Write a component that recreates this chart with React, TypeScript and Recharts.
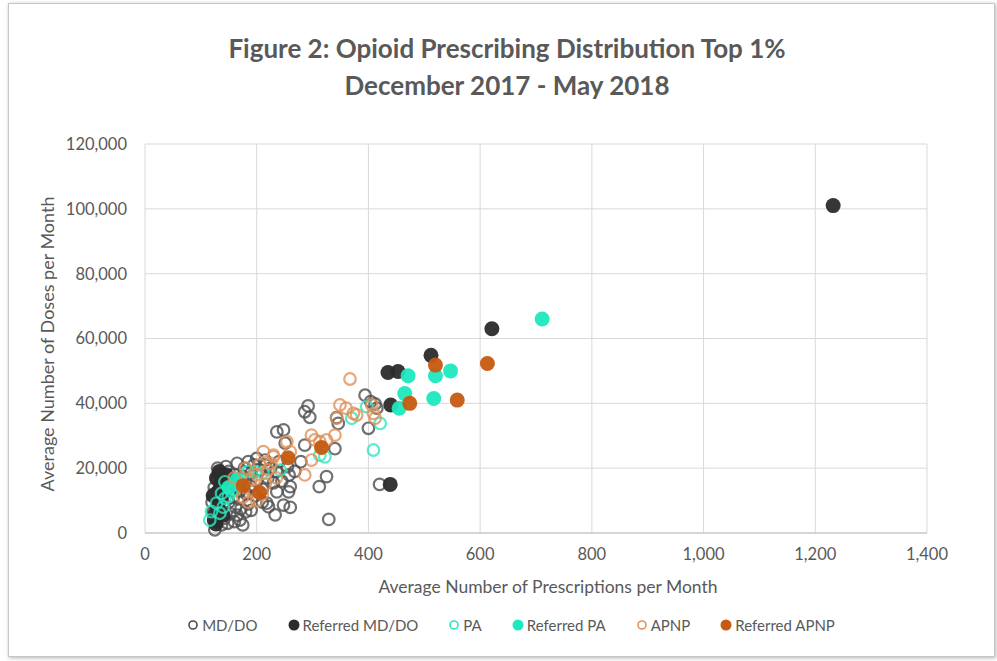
import React from "react";
import { ScatterChart, Scatter, XAxis, YAxis, CartesianGrid } from "recharts";

// [prescriptions per month, doses per month]
const mdDo = [
  [420, 15000], [394, 42500], [404, 40500], [412, 39800], [415, 38500], [400, 32300],
  [292, 39200], [295, 35700], [286, 37400], [346, 33800], [343, 35600],
  [248, 31800], [236, 31200], [251, 27700], [286, 27100], [340, 26000], [279, 22000],
  [258, 17900], [260, 14300], [325, 17400], [312, 14300],
  [329, 4200], [233, 5600], [248, 8600], [260, 7900], [236, 12700], [257, 12700],
  [218, 9200], [221, 8100], [215, 21000],
  [125, 1000], [127, 3500], [130, 5500], [128, 8000], [126, 11000], [124, 14000],
  [128, 16500], [132, 18000], [135, 15000], [138, 12000], [140, 9000], [135, 7000],
  [142, 4500], [148, 3000], [152, 6000], [150, 9500], [147, 13500], [145, 17500],
  [150, 19000], [155, 16000], [158, 11000], [162, 8000], [165, 5500], [160, 3500],
  [170, 4000], [172, 7500], [168, 10500], [170, 13000], [175, 17500], [178, 20000],
  [182, 12000], [185, 9000], [180, 6500], [188, 14500], [190, 18500], [195, 21000],
  [198, 11500], [200, 16000], [205, 19500], [210, 13500], [215, 22500], [220, 17000],
  [225, 20000], [230, 15500], [235, 19000], [240, 22000], [130, 12500], [133, 10000],
  [137, 2500], [143, 15500], [155, 13000], [160, 18000], [165, 21500], [185, 22000],
  [200, 23000], [210, 9500], [190, 7000], [175, 2500], [145, 20500], [130, 20000],
  [122, 6500], [120, 9500], [123, 12000], [255, 20500], [268, 19000], [245, 16000],
];

const referredMdDo = [
  [1232, 101000], [621, 63000], [512, 54800], [435, 49500], [453, 49800], [440, 39500],
  [439, 15000], [124, 4000], [127, 2800], [130, 8000], [132, 13000], [128, 17000],
  [135, 10500], [140, 5500], [145, 18000], [150, 15500], [138, 16000], [126, 6000],
  [133, 19000], [122, 11500], [142, 12500],
];

const pa = [
  [370, 35400], [421, 33800], [409, 25600], [397, 39000], [313, 24000], [322, 23500],
  [242, 19400], [197, 18900], [211, 18500], [143, 15800], [137, 12200], [128, 9200],
  [134, 6100], [143, 10700], [155, 12700], [161, 13300], [149, 11200], [119, 6600],
  [116, 4000], [140, 8000], [170, 15500], [185, 19000],
];

const referredPa = [
  [711, 66000], [547, 50000], [520, 48500], [471, 48500], [465, 43000], [455, 38500],
  [517, 41500], [150, 14000], [165, 16500],
];

const apnp = [
  [367, 47500], [349, 39500], [360, 38500], [373, 36900], [379, 36400], [343, 35400],
  [340, 30200], [325, 28700], [313, 28200], [298, 30200], [304, 28700], [254, 28200],
  [260, 25100], [212, 25100], [230, 23500], [286, 17900], [298, 22500], [406, 39500],
  [409, 36900], [412, 35400], [180, 20000], [190, 16500], [195, 13000], [200, 18000],
  [205, 21000], [215, 15000], [220, 19500], [230, 24000], [175, 11000], [185, 9500],
  [160, 17000], [210, 12000], [235, 17000], [225, 21500], [200, 10000],
];

const referredApnp = [
  [613, 52300], [520, 51800], [474, 40000], [559, 41000], [316, 26400], [256, 23200],
  [176, 14600], [205, 12500],
];

const xTicks = [0, 200, 400, 600, 800, 1000, 1200, 1400];
const yTicks = [0, 20000, 40000, 60000, 80000, 100000, 120000];

const toPoints = (arr: number[][]) => arr.map(([x, y]) => ({ x, y }));

const series = [
  { name: "MD/DO", data: mdDo, color: "#4d4d4d", filled: false },
  { name: "Referred MD/DO", data: referredMdDo, color: "#2b2b2b", filled: true },
  { name: "PA", data: pa, color: "#2ee6c2", filled: false },
  { name: "Referred PA", data: referredPa, color: "#1ee8bd", filled: true },
  { name: "APNP", data: apnp, color: "#e0915a", filled: false },
  { name: "Referred APNP", data: referredApnp, color: "#c55a11", filled: true },
];

const font = "Lato, 'Open Sans', sans-serif";
const textColor = "#595959";
const fmt = (v: number) => v.toLocaleString("en-US");

function marker(color: string, filled: boolean) {
  return (props: any) =>
    filled ? (
      <circle cx={props.cx} cy={props.cy} r={7.5} fill={color} fillOpacity={0.95} />
    ) : (
      <circle
        cx={props.cx}
        cy={props.cy}
        r={5.8}
        fill="none"
        stroke={color}
        strokeWidth={2.2}
        strokeOpacity={0.8}
      />
    );
}

export default function App() {
  return (
    <div
      style={{
        position: "absolute",
        left: 0,
        top: 0,
        width: 997,
        height: 661,
        background: "#fff",
        fontFamily: font,
        overflow: "hidden",
      }}
    >
      <div
        style={{
          position: "absolute",
          left: 8,
          top: 3,
          width: 985,
          height: 652,
          border: "1px solid #c6c6c6",
          boxShadow: "1px 1px 4px rgba(0,0,0,0.3)",
        }}
      />
      <div
        style={{
          position: "absolute",
          left: 0,
          width: 1014,
          top: 30,
          textAlign: "center",
          fontWeight: 700,
          fontSize: 26,
          lineHeight: "37px",
          color: textColor,
        }}
      >
        Figure 2: Opioid Prescribing Distribution Top 1%
        <br />
        December 2017 - May 2018
      </div>

      <div style={{ position: "absolute", left: 0, top: 0 }}>
        <ScatterChart
          width={997}
          height={661}
          margin={{ top: 144, right: 70, bottom: 0, left: 0 }}
        >
          <CartesianGrid stroke="#d9d9d9" strokeWidth={1} />
          <XAxis
            type="number"
            dataKey="x"
            domain={[0, 1400]}
            ticks={xTicks}
            tickFormatter={fmt}
            height={128}
            tickLine={false}
            axisLine={{ stroke: "#bfbfbf" }}
            tickMargin={9}
            tick={{ fill: textColor, fontSize: 16.5, fontFamily: font }}
          />
          <YAxis
            type="number"
            dataKey="y"
            domain={[0, 120000]}
            ticks={yTicks}
            tickFormatter={fmt}
            width={145}
            tickLine={false}
            axisLine={false}
            tickMargin={12}
            tick={{ fill: textColor, fontSize: 16.5, fontFamily: font }}
          />
          {series.map((s) => (
            <Scatter
              key={s.name}
              name={s.name}
              data={toPoints(s.data)}
              shape={marker(s.color, s.filled)}
              isAnimationActive={false}
            />
          ))}
        </ScatterChart>
      </div>

      <div
        style={{
          position: "absolute",
          left: 157,
          width: 782,
          top: 576,
          textAlign: "center",
          fontSize: 17.5,
          color: textColor,
        }}
      >
        Average Number of Prescriptions per Month
      </div>
      <div
        style={{
          position: "absolute",
          left: 47,
          top: 344,
          transform: "translate(-50%, -50%) rotate(-90deg)",
          whiteSpace: "nowrap",
          fontSize: 18,
          color: textColor,
        }}
      >
        Average Number of Doses per Month
      </div>

      <div
        style={{
          position: "absolute",
          left: 0,
          width: 1022,
          top: 616,
          display: "flex",
          justifyContent: "center",
          gap: 30,
          fontSize: 15,
          color: textColor,
        }}
      >
        {series.map((s) => (
          <div key={s.name} style={{ display: "flex", alignItems: "center", gap: 3 }}>
            <svg width={12} height={12}>
              {s.filled ? (
                <circle cx={6} cy={6} r={5.5} fill={s.color} />
              ) : (
                <circle cx={6} cy={6} r={4} fill="none" stroke={s.color} strokeWidth={1.6} />
              )}
            </svg>
            <span>{s.name}</span>
          </div>
        ))}
      </div>
    </div>
  );
}
